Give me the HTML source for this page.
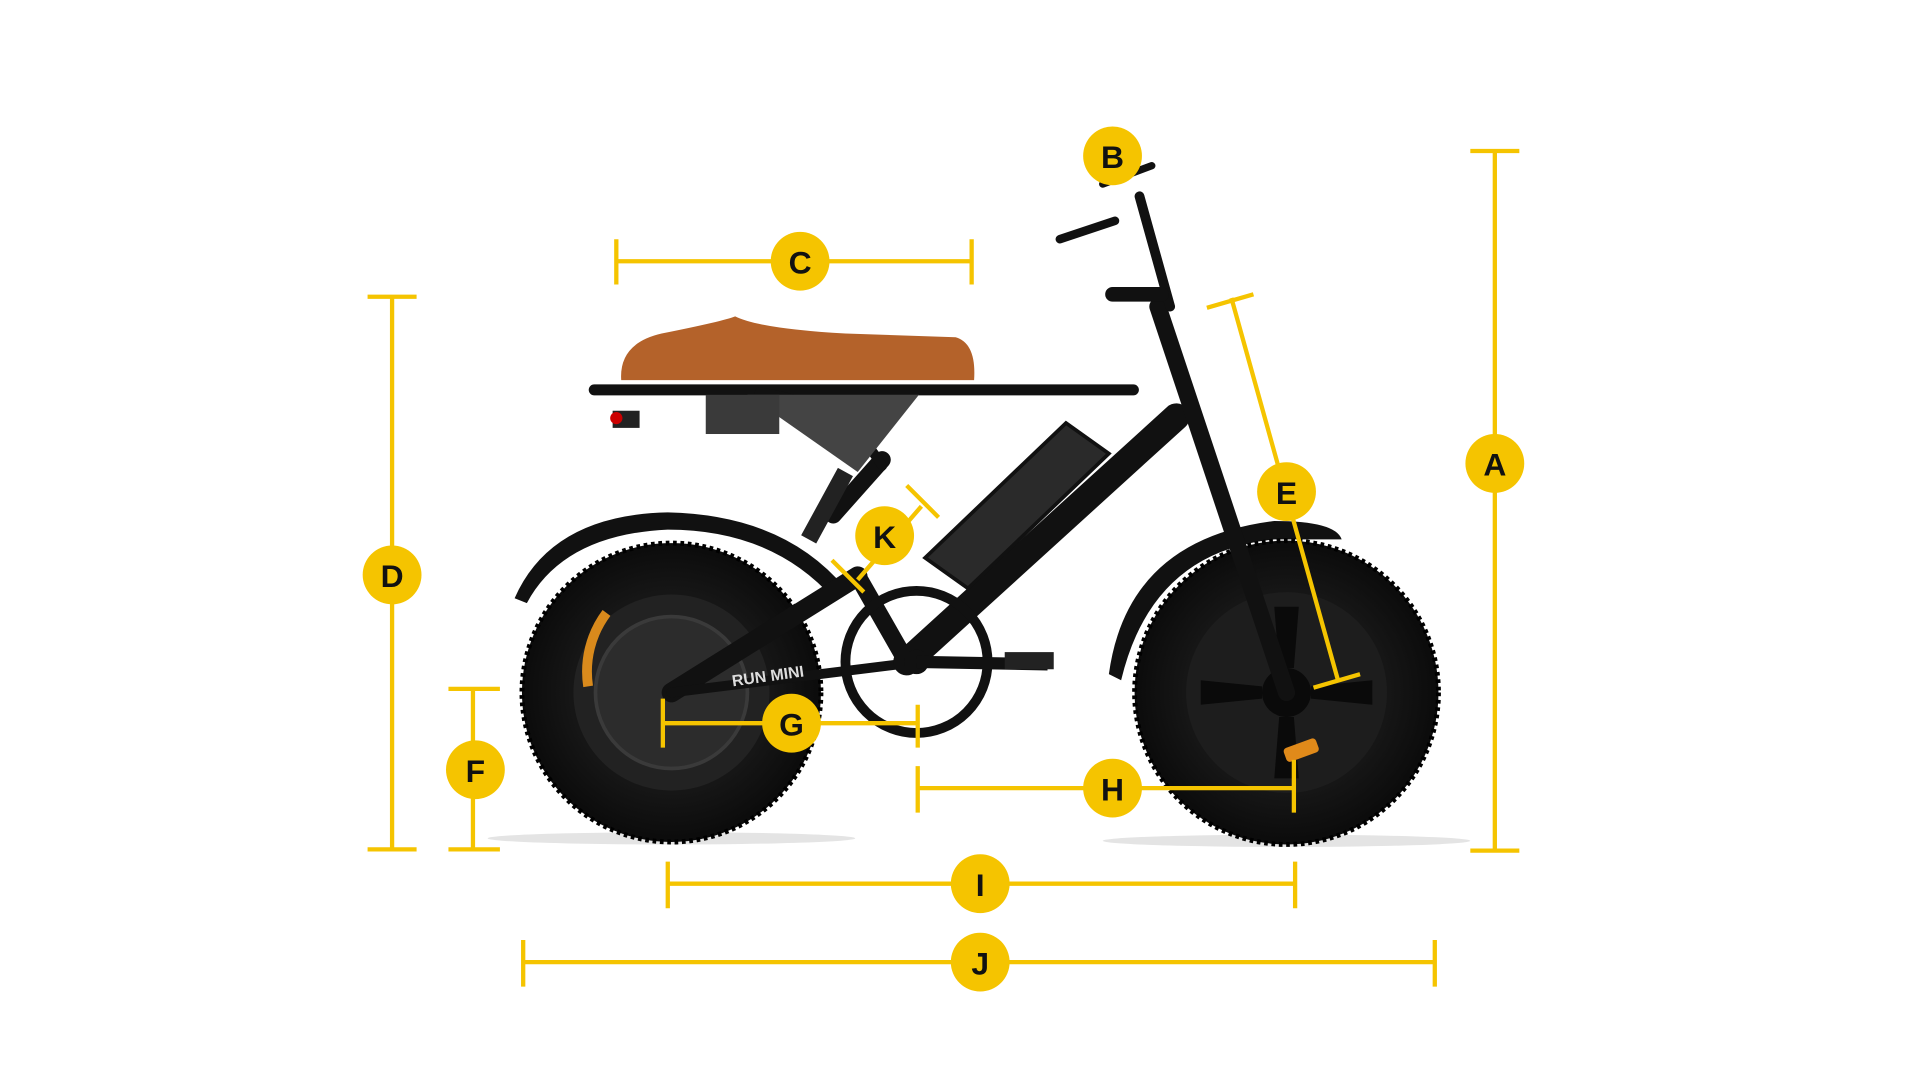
<!DOCTYPE html>
<html><head><meta charset="utf-8"><style>
html,body{margin:0;padding:0;background:#fff;width:1920px;height:1080px;overflow:hidden}
svg{display:block}
text{font-family:"Liberation Sans",sans-serif;font-weight:bold}
</style></head><body>
<svg width="1920" height="1080" viewBox="0 0 1567 881" xmlns="http://www.w3.org/2000/svg">
<defs>
<radialGradient id="tire" cx="50%" cy="50%" r="50%"><stop offset="0.55" stop-color="#1a1a1a"/><stop offset="1" stop-color="#0b0b0b"/></radialGradient>
</defs>
<ellipse cx="548" cy="684" rx="150" ry="5" fill="#e4e4e4"/>
<ellipse cx="1050" cy="686" rx="150" ry="5" fill="#e4e4e4"/>
<path d="M420 488 Q450 420 545 418 Q640 420 690 480 L680 488 Q630 432 545 432 Q460 436 430 492 Z" fill="#111"/>
<circle cx="548" cy="565" r="122" fill="url(#tire)" stroke="#000" stroke-width="4" stroke-dasharray="3 3"/>
<circle cx="548" cy="565" r="80" fill="#222"/>
<circle cx="548" cy="565" r="62" fill="#2c2c2c" stroke="#3a3a3a" stroke-width="3"/>
<path d="M495 500 A80 80 0 0 0 480 560" stroke="#d98a1c" stroke-width="8" fill="none"/>
<path d="M905 550 Q920 440 1040 425 Q1090 425 1095 440 L1040 440 Q940 450 915 555 Z" fill="#111"/>
<circle cx="1050" cy="565" r="124" fill="url(#tire)" stroke="#000" stroke-width="4" stroke-dasharray="3 3"/>
<circle cx="1050" cy="565" r="82" fill="#1d1d1d"/>
<g fill="#0a0a0a">
<circle cx="1050" cy="565" r="20"/>
<path d="M1040 495 L1060 495 L1056 545 L1044 545Z"/>
<path d="M1040 635 L1060 635 L1056 585 L1044 585Z"/>
<path d="M980 555 L980 575 L1030 570 L1030 560Z"/>
<path d="M1120 555 L1120 575 L1070 570 L1070 560Z"/>
</g>
<rect x="1048" y="606" width="28" height="12" rx="3" fill="#e08a1a" transform="rotate(-20 1062 612)"/>
<g stroke="#111" stroke-linecap="round" fill="none">
<path d="M485 318 L925 318" stroke-width="9"/>
<path d="M548 565 L700 470" stroke-width="16"/>
<path d="M548 565 L750 540" stroke-width="8"/>
<path d="M700 470 L740 540" stroke-width="14"/>
<path d="M740 540 L960 340" stroke-width="22"/>
<path d="M680 420 L720 375" stroke-width="14"/>
<path d="M620 320 Q690 330 720 380" stroke-width="8"/>
<path d="M945 250 L1050 565" stroke-width="14"/>
<path d="M930 160 L955 250" stroke-width="8"/>
<path d="M908 240 L948 240" stroke-width="12"/>
<path d="M900 150 L940 135" stroke-width="6"/>
<path d="M865 195 L910 180" stroke-width="7"/>
</g>
<path d="M610 322 L750 322 L700 385 Z" fill="#444"/>
<rect x="576" y="322" width="60" height="32" fill="#3a3a3a"/>
<path d="M755 455 L870 345 L905 370 L790 480 Z" fill="#2a2a2a" stroke="#111" stroke-width="3"/>
<path d="M507 310 Q505 280 540 272 Q590 262 600 258 Q620 268 690 272 L780 275 Q797 280 795 310 Z" fill="#b4622a"/>
<circle cx="748" cy="540" r="58" fill="none" stroke="#111" stroke-width="8"/>
<circle cx="748" cy="540" r="10" fill="#111"/>
<path d="M748 540 L855 542" stroke="#111" stroke-width="10"/>
<rect x="820" y="532" width="40" height="14" fill="#222"/>
<path d="M690 385 L660 440" stroke="#222" stroke-width="14"/>
<rect x="500" y="335" width="22" height="14" fill="#222"/>
<circle cx="503" cy="341" r="5" fill="#c00"/>
<text x="598" y="560" font-size="13" fill="#ddd" transform="rotate(-8 598 560)">RUN MINI</text>
<g stroke="#F5C400" stroke-width="3.5" fill="none">
<path d="M1220 123 V694 M1200 123 H1240 M1200 694 H1240"/>
<path d="M503 213 H793 M503 195 V232 M793 195 V232"/>
<path d="M320 242 V693 M300 242 H340 M300 693 H340"/>
<path d="M1005 243 L1092 555 M985 251 L1023 240 M1072 561 L1110 550"/>
<path d="M386 562 V693 M366 562 H408 M366 693 H408"/>
<path d="M541 590 H749 M541 570 V610 M749 575 V610"/>
<path d="M749 643 H1056 M749 625 V663 M1056 620 V663"/>
<path d="M545 721 H1057 M545 703 V741 M1057 703 V741"/>
<path d="M427 785 H1171 M427 767 V805 M1171 767 V805"/>
<path d="M700 473 L752 413 M679 457 L705 483 M740 396 L766 422"/>
</g>
<g fill="#F5C400">
<circle cx="1220" cy="378" r="24"/><circle cx="908" cy="127" r="24"/>
<circle cx="653" cy="213" r="24"/><circle cx="320" cy="469" r="24"/>
<circle cx="1050" cy="401" r="24"/><circle cx="388" cy="628" r="24"/>
<circle cx="646" cy="590" r="24"/><circle cx="908" cy="643" r="24"/>
<circle cx="800" cy="721" r="24"/><circle cx="800" cy="785" r="24"/>
<circle cx="722" cy="437" r="24"/>
</g>
<g font-size="26" fill="#111" text-anchor="middle">
<text x="1220" y="388">A</text><text x="908" y="137">B</text>
<text x="653" y="223">C</text><text x="320" y="479">D</text>
<text x="1050" y="411">E</text><text x="388" y="638">F</text>
<text x="646" y="600">G</text><text x="908" y="653">H</text>
<text x="800" y="731">I</text><text x="800" y="795">J</text>
<text x="722" y="447">K</text>
</g>
</svg>
</body></html>
